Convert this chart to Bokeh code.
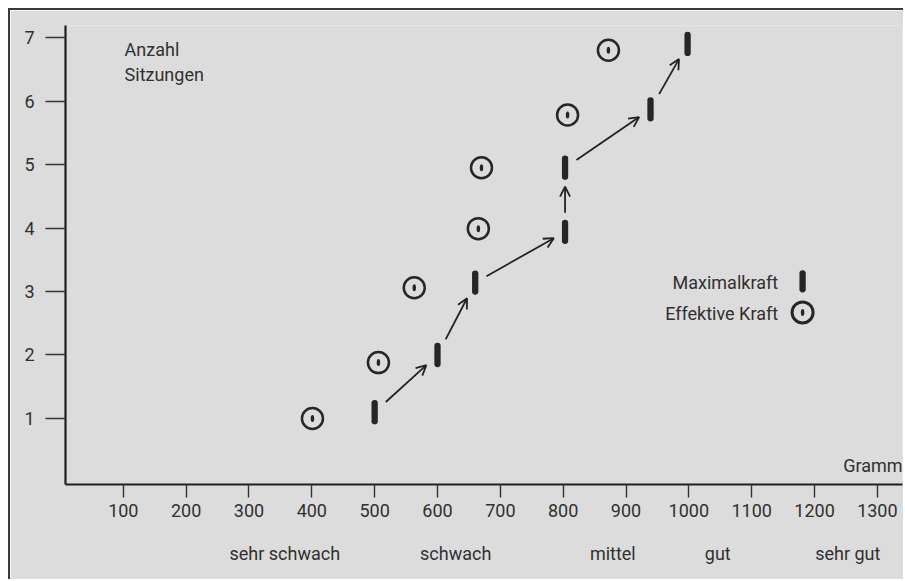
import math
from bokeh.plotting import figure
from bokeh.models import Range1d, FixedTicker, Arrow, OpenHead, Label, LinearAxis
from bokeh.embed import file_html
from bokeh.resources import INLINE

# ---------------- data ----------------
max_x = [500, 600, 660, 803, 803, 939, 998]          # Maximalkraft (Gramm)
max_y = [1.1, 2.0, 3.14, 3.94, 4.95, 5.87, 6.9]       # Anzahl Sitzungen
eff_x = [401, 506, 563, 665, 670, 807, 872]          # Effektive Kraft (Gramm)
eff_y = [1.0, 1.88, 3.06, 3.99, 4.95, 5.78, 6.8]
x_ticks = [100, 200, 300, 400, 500, 600, 700, 800, 900, 1000, 1100, 1200, 1300]
y_ticks = [1, 2, 3, 4, 5, 6, 7]
categories = ["sehr schwach", "schwach", "mittel", "gut", "sehr gut"]
category_x = [357, 629, 879, 1046, 1253]
legend_names = ["Maximalkraft", "Effektive Kraft"]

# ---------------- layout ----------------
FONT = "Roboto"
FS = "18px"
INK = "#303030"
BG = "#dcdcdc"
W, H = 895, 571
MB_L, MB_R, MB_T, MB_B = 55, 3, 15, 97
X0, X1 = 8, 1340
Y0, Y1 = -0.04, 7.19

p = figure(width=W, height=H, output_backend="svg", toolbar_location=None,
           x_range=Range1d(X0, X1), y_range=Range1d(Y0, Y1),
           min_border_left=MB_L, min_border_right=MB_R,
           min_border_top=MB_T, min_border_bottom=MB_B,
           background_fill_color=BG, border_fill_color=BG,
           outline_line_color=None)
p.styles = {"margin-top": "8px", "margin-left": "8px",
            "border-top": "2px solid #3a3a3a", "border-left": "2px solid #3a3a3a"}
p.grid.visible = False

for ax in (p.xaxis, p.yaxis):
    ax.axis_line_color = "#1e1e1e"
    ax.axis_line_width = 2.2
    ax.major_tick_line_color = "#333333"
    ax.major_tick_line_width = 1.4
    ax.major_tick_in = 0
    ax.minor_tick_line_color = None
    ax.major_label_text_font = FONT
    ax.major_label_text_font_size = FS
    ax.major_label_text_color = INK

p.xaxis.ticker = FixedTicker(ticks=x_ticks)
p.xaxis.major_tick_out = 13
p.xaxis.major_label_standoff = 6
p.yaxis.ticker = FixedTicker(ticks=y_ticks)
p.yaxis.major_tick_out = 20
p.yaxis.major_label_standoff = 11

# category axis (second row below the Gramm axis)
cat_axis = LinearAxis(ticker=FixedTicker(ticks=category_x),
                      major_label_overrides={cx: c for cx, c in zip(category_x, categories)},
                      axis_line_color=None, major_tick_line_color=None,
                      minor_tick_line_color=None, major_tick_out=0, major_tick_in=0,
                      major_label_standoff=23, major_label_text_font=FONT,
                      major_label_text_font_size=FS, major_label_text_color=INK)
p.add_layout(cat_axis, "below")

# ---------------- marks ----------------
p.scatter(max_x, max_y, marker="dash", size=18, angle=math.pi / 2,
          line_width=6.3, line_cap="round", line_color="#262626")
p.scatter(eff_x, eff_y, marker="circle", size=21, fill_color=None,
          line_width=2.5, line_color="#262626")
p.ellipse(eff_x, eff_y, width=3.5, height=7, width_units="screen",
          height_units="screen", fill_color="#262626", line_color=None)

# arrows between consecutive Maximalkraft marks
FW = W - MB_L - MB_R
FH = H - MB_T - MB_B
SX = FW / (X1 - X0)
SY = FH / (Y1 - Y0)
for i in range(len(max_x) - 1):
    ax0, ay0 = max_x[i] * SX, max_y[i] * SY
    ax1, ay1 = max_x[i + 1] * SX, max_y[i + 1] * SY
    dx, dy = ax1 - ax0, ay1 - ay0
    L = math.hypot(dx, dy)
    ux, uy = dx / L, dy / L
    g = 7 + 12 * abs(uy)
    xs, ys = (ax0 + ux * g) / SX, (ay0 + uy * g) / SY
    xe, ye = (ax1 - ux * g) / SX, (ay1 - uy * g) / SY
    p.add_layout(Arrow(x_start=xs, y_start=ys, x_end=xe, y_end=ye,
                       line_width=1.8, line_color="#222222",
                       end=OpenHead(size=10, line_width=1.8, line_color="#222222")))

# ---------------- texts ----------------
def lab(x, y, text, align="left", baseline="middle"):
    p.add_layout(Label(x=x, y=y, text=text, text_font=FONT,
                       text_font_size=FS, text_color=INK,
                       text_align=align, text_baseline=baseline))

lab(102, 6.81, "Anzahl")
lab(102, 6.42, "Sitzungen")
lab(X1, 0.26, "Gramm", align="right")

# legend
lab(1142, 3.14, legend_names[0], align="right")
lab(1142, 2.65, legend_names[1], align="right")
p.scatter([1181], [3.16], marker="dash", size=16, angle=math.pi / 2,
          line_width=6.3, line_cap="round", line_color="#262626")
p.scatter([1181], [2.67], marker="circle", size=21, fill_color=None,
          line_width=3, line_color="#262626")
p.ellipse([1181], [2.67], width=3.5, height=7, width_units="screen",
          height_units="screen", fill_color="#262626", line_color=None)

open("out.html", "w").write(file_html(p, INLINE))
